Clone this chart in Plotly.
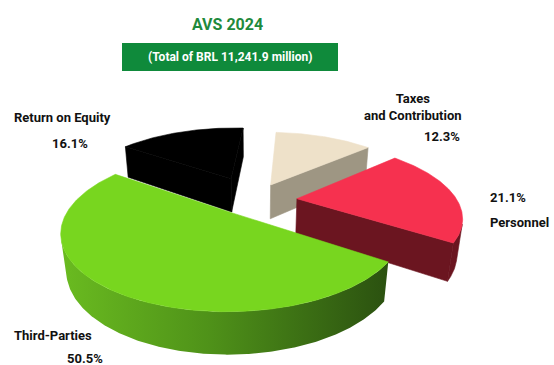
import numpy as np
import plotly.graph_objects as go

# Added value distribution (AVS 2024), shares in percent, drawn counter-clockwise
categories = ["Personnel", "Taxes<br>and Contribution", "Return on Equity", "Third-Parties"]
shares = [21.1, 12.3, 16.1, 50.5]
title_text = "AVS 2024"
subtitle_text = "(Total of BRL 11,241.9 million)"

top_colors = ["#f6314f", "#eee1c9", "#000000", "#78d61f"]
side_colors = ["#6b1520", "#9e9683", "#000000", "#4a8a17"]
explode = [0.27, 0.25, 0.36, 0.22]

W, Hpx = 554, 365

# 3D pie geometry (unit radius disc seen from above with perspective)
START_DEG = -34.0
PHI = np.radians(26.0)   # camera elevation
PSI = np.radians(0.0)    # camera yaw
DIST = 4.1               # camera distance (in radii)
SCALE = 160.0
CX, CY = 254.0, 200.0
THICK = 0.25


def to_view(X, Y, Z):
    Xr = X * np.cos(PSI) - Z * np.sin(PSI)
    Zr = X * np.sin(PSI) + Z * np.cos(PSI)
    u = Xr
    v = Y * np.cos(PHI) + Zr * np.sin(PHI)
    w = Zr * np.cos(PHI) - Y * np.sin(PHI)
    return u, v, w


def project(X, Y, Z):
    u, v, w = to_view(np.asarray(X, float), np.asarray(Y, float), np.asarray(Z, float))
    s = DIST / (DIST + w)
    return CX + SCALE * u * s, CY - SCALE * v * s


def faces_camera(normal, point):
    nu, nv, nw = to_view(*normal)
    pu, pv, pw = to_view(*point)
    return nu * (-pu) + nv * (-pv) + nw * (-DIST - pw) > 0


fig = go.Figure()


def add_poly(xs, ys, color, gradient=None, lw=0.6):
    kw = dict(fill="toself", fillcolor=color)
    if gradient is not None:
        kw["fillgradient"] = dict(type="horizontal", colorscale=gradient)
    fig.add_trace(go.Scatter(
        x=list(xs) + [xs[0]], y=list(ys) + [ys[0]], mode="lines",
        line=dict(color=color, width=lw), hoverinfo="skip", showlegend=False, **kw))


# build slices
slices = []
a = START_DEG
for i, share in enumerate(shares):
    span = share / 100.0 * 360.0
    a0, a1 = a, a + span
    mid = np.radians((a0 + a1) / 2)
    ox, oz = explode[i] * np.cos(mid), explode[i] * np.sin(mid)
    slices.append(dict(i=i, a0=np.radians(a0), a1=np.radians(a1), ox=ox, oz=oz,
                       depth=to_view(ox + 0.5 * np.cos(mid), 0, oz + 0.5 * np.sin(mid))[2]))
    a = a1

green_grad = [[0, "#6abb20"], [0.45, "#4f9219"], [0.75, "#3b6e14"], [1, "#2b5110"]]

for sl in sorted(slices, key=lambda d: -d["depth"]):
    i, a0, a1, ox, oz = sl["i"], sl["a0"], sl["a1"], sl["ox"], sl["oz"]
    th = np.linspace(a0, a1, max(12, int(np.degrees(a1 - a0) * 2)))
    ax, az = ox + np.cos(th), oz + np.sin(th)
    grad = green_grad if categories[i] == "Third-Parties" else None

    # radial cut faces
    for ang, nrm in ((a0, (np.sin(a0), 0, -np.cos(a0))), (a1, (-np.sin(a1), 0, np.cos(a1)))):
        ex, ez = ox + np.cos(ang), oz + np.sin(ang)
        cen = ((ox + ex) / 2, -THICK / 2, (oz + ez) / 2)
        if faces_camera(nrm, cen):
            X = [ox, ex, ex, ox]
            Y = [0, 0, -THICK, -THICK]
            Z = [oz, ez, ez, oz]
            px, py = project(X, Y, Z)
            add_poly(px, py, side_colors[i])

    # outer curved wall, only the parts turned toward the camera
    vis = [faces_camera((np.cos(t), 0, np.sin(t)), (ox + np.cos(t), -THICK / 2, oz + np.sin(t))) for t in th]
    runs, cur = [], []
    for k_, v_ in enumerate(vis):
        if v_:
            cur.append(k_)
        elif cur:
            runs.append(cur)
            cur = []
    if cur:
        runs.append(cur)
    for run in runs:
        if len(run) < 2:
            continue
        idx = np.array(run)
        tx, ty = project(ax[idx], np.zeros(len(idx)), az[idx])
        bx, by = project(ax[idx], np.full(len(idx), -THICK), az[idx])
        xs = np.concatenate([tx, bx[::-1]])
        ys = np.concatenate([ty, by[::-1]])
        add_poly(xs, ys, side_colors[i], gradient=grad, lw=0 if grad else 0.6)

    # top face
    X = np.concatenate([[ox], ax])
    Z = np.concatenate([[oz], az])
    px, py = project(X, np.zeros(len(X)), Z)
    add_poly(px, py, top_colors[i])

# labels
lab_font = dict(family="Roboto", size=13, color="#111111")
pct = [f"<b>{s:.1f}%</b>" for s in shares]
annots = [
    dict(x=12, y=117, text=f"<b>{categories[2]}</b>", xanchor="left"),
    dict(x=50, y=143, text=pct[2], xanchor="left"),
    dict(x=413, y=107, text=f"<b>{categories[1]}</b>", xanchor="center"),
    dict(x=422, y=136, text=pct[1], xanchor="left"),
    dict(x=488, y=197, text=pct[0], xanchor="left"),
    dict(x=488, y=222, text=f"<b>{categories[0]}</b>", xanchor="left"),
    dict(x=12, y=335, text=f"<b>{categories[3]}</b>", xanchor="left"),
    dict(x=65, y=358, text=pct[3], xanchor="left"),
]
for an in annots:
    fig.add_annotation(xref="x", yref="y", yanchor="middle", showarrow=False,
                       font=lab_font, align="center", **an)

fig.add_annotation(x=227, y=24, xref="x", yref="y", text=f"<b>{title_text}</b>",
                   showarrow=False, font=dict(family="Roboto", size=16, color="#1f8a3c"))
fig.add_shape(type="rect", x0=122, x1=338, y0=43, y1=71, xref="x", yref="y",
              fillcolor="#0f8a3b", line=dict(width=0), layer="below")
fig.add_annotation(x=230, y=57, xref="x", yref="y", text=f"<b>{subtitle_text}</b>",
                   showarrow=False, font=dict(family="Roboto", size=12, color="#ffffff"))

fig.update_layout(
    width=W, height=Hpx, autosize=False,
    margin=dict(l=0, r=0, t=0, b=0),
    paper_bgcolor="#ffffff", plot_bgcolor="#ffffff",
    xaxis=dict(range=[0, W], visible=False, fixedrange=True),
    yaxis=dict(range=[Hpx, 0], visible=False, fixedrange=True),
)

fig.write_html("out.html")
